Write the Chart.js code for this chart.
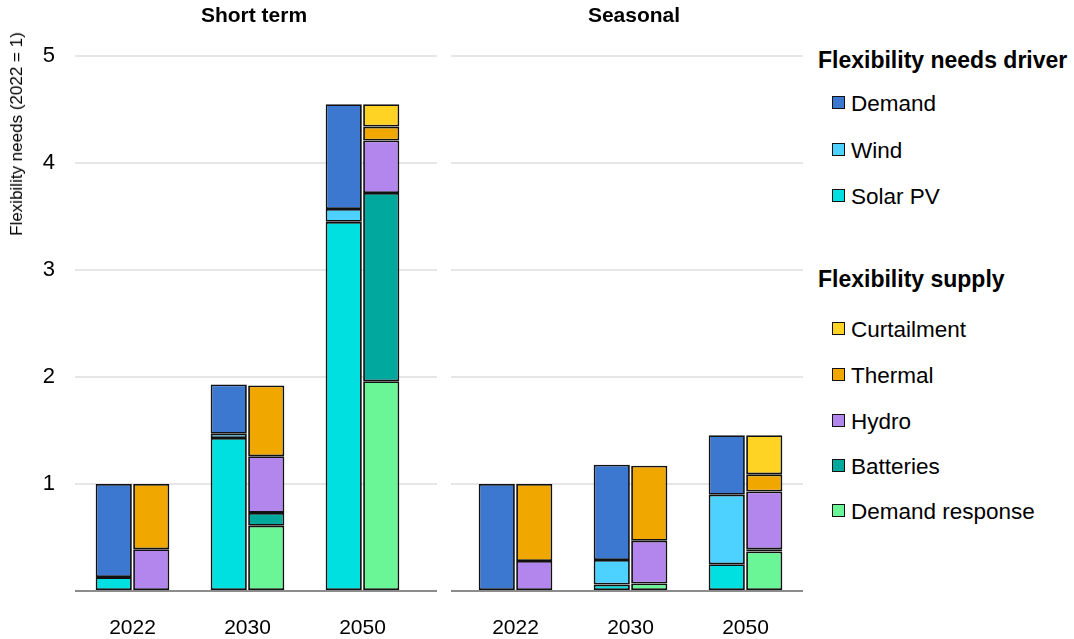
<!DOCTYPE html>
<html lang="en">
  <head>
    <meta charset="UTF-8" />
    <script src="https://cdn.jsdelivr.net/npm/chart.js@4.4.0/dist/chart.umd.min.js"></script>
    <title>Flexibility needs</title>
    <style>
      body { margin: 0; width: 1074px; height: 639px; position: relative; background: #fff;
             font-family: "Liberation Sans", Arial, sans-serif; color: #000; overflow: hidden; }
      .box { position: absolute; top: 0; height: 639px; }
      .ptitle { position: absolute; top: 3px; font-weight: bold; font-size: 21px; transform: translateX(-50%); white-space: nowrap; }
      .ytitle { position: absolute; left: 17px; top: 134px; font-size: 17px; white-space: nowrap;
                transform: translate(-50%, -50%) rotate(-90deg); }
      .lhead { position: absolute; left: 818px; font-weight: bold; font-size: 23px; line-height: 26px; white-space: nowrap; }
      .litem { position: absolute; left: 832px; font-size: 22.5px; white-space: nowrap; line-height: 24px; }
      .litem span { display: inline-block; width: 11px; height: 11px; border: 1px solid #111; margin-right: 6px; vertical-align: 2px; }
    </style>
  </head>
  <body>
    <div class="box" style="left:0;width:437px"><canvas id="shortChart"></canvas></div>
    <div class="box" style="left:451px;width:352px"><canvas id="seasonChart"></canvas></div>
    <div class="ptitle" style="left:254px">Short term</div>
    <div class="ptitle" style="left:634px">Seasonal</div>
    <div class="ytitle">Flexibility needs (2022 = 1)</div>
    <div id="legend"></div>
    <script>
      const years = ["2022", "2030", "2050"];

      // short term - drivers
      const stSolar = [0.13, 1.43, 3.45];
      const stWind = [null, 0.04, 0.12];
      const stDemand = [0.87, 0.46, 0.98];
      // short term - supply
      const stDR = [0.01, 0.61, 1.96];
      const stBatteries = [null, 0.12, 1.76];
      const stHydro = [0.38, 0.53, 0.49];
      const stThermal = [0.61, 0.66, 0.13];
      const stCurtail = [null, null, 0.21];

      // seasonal - drivers
      const seSolar = [null, 0.06, 0.25];
      const seWind = [null, 0.23, 0.65];
      const seDemand = [1.0, 0.89, 0.555];
      // seasonal - supply
      const seDR = [null, 0.07, 0.37];
      const seBatteries = [null, null, 0.02];
      const seHydro = [0.28, 0.40, 0.54];
      const seThermal = [0.72, 0.70, 0.16];
      const seCurtail = [null, null, 0.365];

      const colors = {
        "Demand": "#3d78d0",
        "Wind": "#4dd1ff",
        "Solar PV": "#00e0e0",
        "Curtailment": "#ffd324",
        "Thermal": "#f0a800",
        "Hydro": "#b286ec",
        "Batteries": "#00a89d",
        "Demand response": "#6af596",
      };

      function ds(label, stack, vals) {
        return {
          label: label,
          stack: stack,
          data: vals.map((v, i) => ({ x: i, y: v })),
          backgroundColor: colors[label],
          borderColor: "#111",
          borderWidth: 1.8,
          borderSkipped: false,
          categoryPercentage: 0.652,
          barPercentage: 0.965,
        };
      }

      function makeChart(id, sets, xmin, xmax, showY) {
        const ctx = document.getElementById(id).getContext("2d");
        return new Chart(ctx, {
          type: "bar",
          data: { datasets: sets },
          options: {
            responsive: true,
            maintainAspectRatio: false,
            animation: false,
            layout: { padding: { top: 56, left: 0, right: 0, bottom: 0 } },
            plugins: { legend: { display: false }, tooltip: { enabled: false }, title: { display: false } },
            scales: {
              x: {
                type: "linear",
                stacked: true,
                offset: false,
                min: xmin,
                max: xmax,
                grid: { display: false },
                border: { display: false },
                afterBuildTicks: (axis) => { axis.ticks = [0, 1, 2].map((v) => ({ value: v })); },
                afterFit: (axis) => { axis.height = 48; },
                ticks: {
                  callback: (v) => years[v],
                  color: "#000",
                  padding: 17,
                  maxRotation: 0,
                  font: { family: "Liberation Sans", size: 21 },
                },
              },
              y: {
                stacked: true,
                min: 0,
                max: 5,
                border: { display: false },
                afterFit: (axis) => { axis.width = showY ? 75 : 0; },
                grid: {
                  drawTicks: false,
                  lineWidth: 2,
                  color: (c) => (c.tick && c.tick.value === 0 ? "#8c8c8c" : "#e6e6e6"),
                },
                ticks: {
                  display: showY,
                  stepSize: 1,
                  padding: 20,
                  color: "#000",
                  callback: (v) => (v === 0 ? "" : v),
                  font: { family: "Liberation Sans", size: 22 },
                },
              },
            },
          },
        });
      }

      makeChart("shortChart", [
        ds("Solar PV", "driver", stSolar),
        ds("Wind", "driver", stWind),
        ds("Demand", "driver", stDemand),
        ds("Demand response", "supply", stDR),
        ds("Batteries", "supply", stBatteries),
        ds("Hydro", "supply", stHydro),
        ds("Thermal", "supply", stThermal),
        ds("Curtailment", "supply", stCurtail),
      ], -0.5, 2.648, true);

      makeChart("seasonChart", [
        ds("Solar PV", "driver", seSolar),
        ds("Wind", "driver", seWind),
        ds("Demand", "driver", seDemand),
        ds("Demand response", "supply", seDR),
        ds("Batteries", "supply", seBatteries),
        ds("Hydro", "supply", seHydro),
        ds("Thermal", "supply", seThermal),
        ds("Curtailment", "supply", seCurtail),
      ], -0.561, 2.5, false);

      // legend with two groups
      const legendRows = [
        { head: "Flexibility needs driver", y: 47 },
        { item: "Demand", y: 92 },
        { item: "Wind", y: 139 },
        { item: "Solar PV", y: 185 },
        { head: "Flexibility supply", y: 266 },
        { item: "Curtailment", y: 318 },
        { item: "Thermal", y: 364 },
        { item: "Hydro", y: 410 },
        { item: "Batteries", y: 455 },
        { item: "Demand response", y: 500 },
      ];
      const legend = document.getElementById("legend");
      legendRows.forEach((r) => {
        const d = document.createElement("div");
        if (r.head) {
          d.className = "lhead";
          d.textContent = r.head;
        } else {
          d.className = "litem";
          const sw = document.createElement("span");
          sw.style.background = colors[r.item];
          d.appendChild(sw);
          d.appendChild(document.createTextNode(r.item));
        }
        d.style.top = r.y + "px";
        legend.appendChild(d);
      });
    </script>
  </body>
</html>
